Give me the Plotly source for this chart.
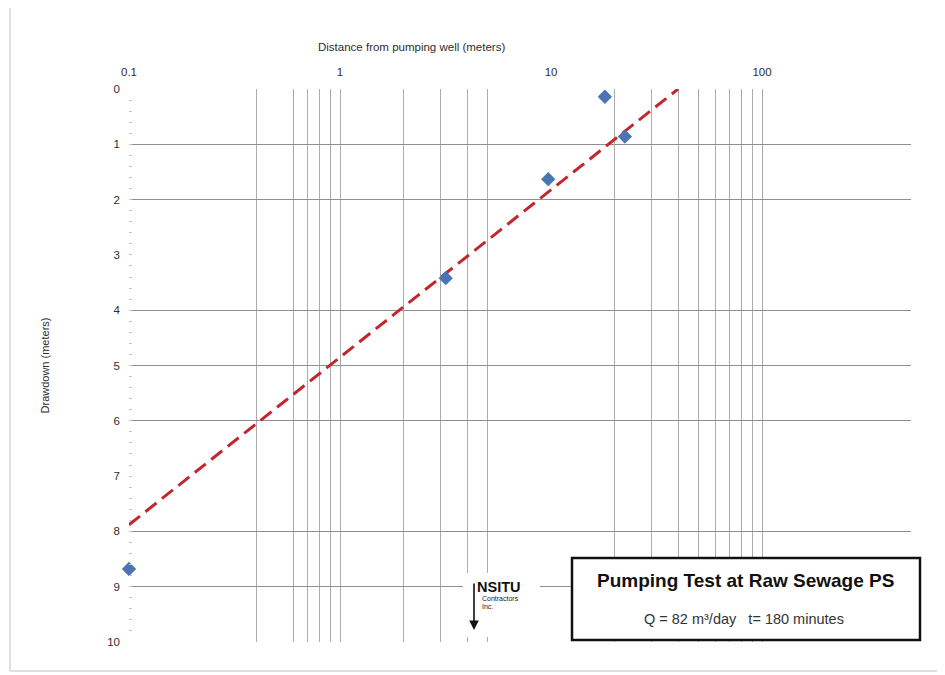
import plotly.graph_objects as go

# ---- data ----
distance_m = [0.1, 3.17, 9.7, 18.0, 22.4]
drawdown_m = [8.68, 3.42, 1.63, 0.14, 0.86]

fit_distance_m = [0.1, 40.0]
fit_drawdown_m = [7.88, 0.0]

x_tick_vals = [0.1, 1, 10, 100]
x_tick_text = ["0.1", "1", "10", "100"]
x_grid_vals = [0.4, 0.6, 0.7, 0.8, 0.9, 1, 2, 3, 4, 5,
               20, 30, 40, 50, 60, 70, 80, 90, 100]

y_tick_vals = [0, 0.2, 0.4, 0.6, 0.8, 1, 1.2, 1.4, 1.6, 1.8, 2, 2.2, 2.4, 2.6, 2.8,
               3, 3.2, 3.4, 3.6, 3.8, 4, 4.2, 4.4, 4.6, 4.8, 5, 5.2, 5.4, 5.6, 5.8,
               6, 6.2, 6.4, 6.6, 6.8, 7, 7.2, 7.4, 7.6, 7.8, 8, 8.2, 8.4, 8.6, 8.8,
               9, 9.2, 9.4, 9.6, 9.8, 10]
y_tick_text = [str(int(v)) if abs(v - round(v)) < 1e-9 else "" for v in y_tick_vals]
y_grid_vals = [1, 2, 4, 5, 6, 8, 9]

# ---- figure geometry (screen pixels; page has an 8px body offset) ----
W, H = 945, 675
OFF = 8
PLOT_L, PLOT_R, PLOT_T, PLOT_B = 129, 911, 89, 642
L = PLOT_L - OFF
T = PLOT_T - OFF
R = W - (PLOT_R - OFF)
B = H - (PLOT_B - OFF)
pw, ph = PLOT_R - PLOT_L, PLOT_B - PLOT_T


def px(x):
    return (x - PLOT_L) / pw


def py(y):
    return (PLOT_B - y) / ph


TXT = "#2e2e2e"

fig = go.Figure()

fig.add_trace(go.Scatter(
    x=fit_distance_m, y=fit_drawdown_m, mode="lines",
    line=dict(color="#c1272d", width=3, dash="14px,7px"),
    showlegend=False, hoverinfo="skip", cliponaxis=False,
))
fig.add_trace(go.Scatter(
    x=distance_m, y=drawdown_m, mode="markers",
    marker=dict(symbol="diamond", size=11, color="#4a74b4"),
    showlegend=False, cliponaxis=False,
))

font_family = "Liberation Sans, Arial, sans-serif"

fig.update_layout(
    width=W, height=H,
    margin=dict(l=L, r=R, t=T, b=B),
    template="none",
    paper_bgcolor="white", plot_bgcolor="white",
    showlegend=False,
    font=dict(family=font_family, size=11, color=TXT),
    xaxis=dict(
        type="log", range=[-1, 2.706], side="top",
        tickmode="array", tickvals=x_tick_vals, ticktext=x_tick_text,
        ticks="", showgrid=False, zeroline=False, showline=False,
        ticklabelstandoff=10,
        tickfont=dict(size=11.5, color=TXT),
        minor=dict(tickmode="array", tickvals=x_grid_vals, showgrid=True,
                   gridcolor="#ababab", gridwidth=1.2, ticks=""),
    ),
    yaxis=dict(
        range=[10, 0],
        tickmode="array", tickvals=y_tick_vals, ticktext=y_tick_text,
        ticks="inside", ticklen=3, tickwidth=1, tickcolor="#c4c4c4",
        showgrid=False, zeroline=False, showline=False,
        ticklabelstandoff=8,
        tickfont=dict(size=11.5, color=TXT),
        title=dict(text="Drawdown (meters)", standoff=55,
                   font=dict(size=11, color=TXT)),
        minor=dict(tickmode="array", tickvals=y_grid_vals, showgrid=True,
                   gridcolor="#8f8f8f", gridwidth=1.4, ticks=""),
    ),
)

# x-axis title (sits left of centre in the reference)
fig.add_annotation(
    text="Distance from pumping well (meters)", xref="paper", yref="paper",
    x=px(411), y=py(47), xanchor="center", yanchor="middle", showarrow=False,
    font=dict(size=11.5, color=TXT),
)

# outer chart border (left and bottom visible)
fig.add_shape(type="line", xref="paper", yref="paper",
              x0=px(10), x1=px(10), y0=py(671), y1=py(3),
              line=dict(color="#d6d6d6", width=1.5), layer="above")
fig.add_shape(type="line", xref="paper", yref="paper",
              x0=px(10), x1=px(940), y0=py(671), y1=py(671),
              line=dict(color="#d6d6d6", width=1.5), layer="above")

# logo background (interrupts grid)
fig.add_shape(type="rect", xref="paper", yref="paper",
              x0=px(463), x1=px(540), y0=py(637), y1=py(573),
              fillcolor="white", line=dict(width=0), layer="above")
fig.add_annotation(text="<b>NSITU</b>", xref="paper", yref="paper",
                   x=px(475), y=py(587), xanchor="left", yanchor="middle",
                   showarrow=False,
                   font=dict(size=14.5, color="#111111"))
fig.add_annotation(text="Contractors", xref="paper", yref="paper",
                   x=px(480), y=py(598), xanchor="left", yanchor="middle",
                   showarrow=False, font=dict(size=7, color="#222222"))
fig.add_annotation(text="Inc.", xref="paper", yref="paper",
                   x=px(480), y=py(606), xanchor="left", yanchor="middle",
                   showarrow=False, font=dict(size=7, color="#222222"))
fig.add_annotation(text="", xref="paper", yref="paper",
                   x=px(474), y=py(630), ax=0, ay=-48,
                   showarrow=True, arrowhead=2, arrowsize=1.2, arrowwidth=1.6,
                   arrowcolor="#111111")

# title box
fig.add_shape(type="rect", xref="paper", yref="paper",
              x0=px(572), x1=px(920), y0=py(640), y1=py(558),
              fillcolor="white", line=dict(color="#111111", width=2.5),
              layer="above")
fig.add_annotation(text="<b>Pumping Test at Raw Sewage PS</b>",
                   xref="paper", yref="paper", x=px(745), y=py(580),
                   xanchor="center", yanchor="middle", showarrow=False,
                   font=dict(size=19, color="#111111"))
fig.add_annotation(text="Q = 82 m³/day\u00a0\u00a0\u00a0t= 180 minutes",
                   xref="paper", yref="paper", x=px(744), y=py(619),
                   xanchor="center", yanchor="middle", showarrow=False,
                   font=dict(size=14.5, color="#333333"))

fig.write_html("out.html")
